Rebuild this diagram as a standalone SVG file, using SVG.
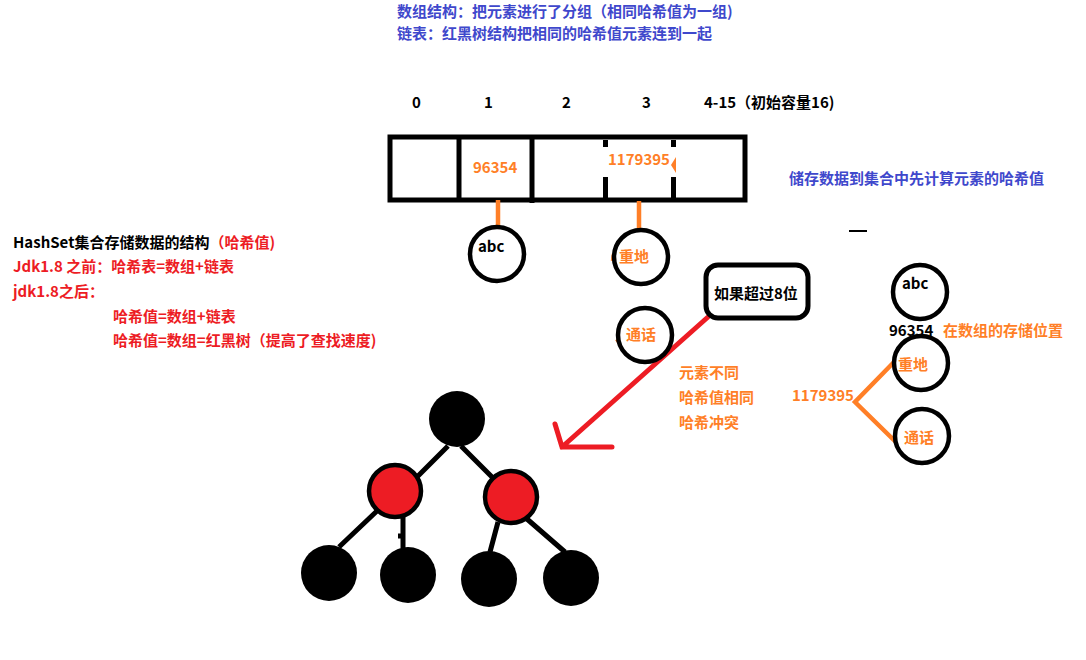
<svg xmlns="http://www.w3.org/2000/svg" width="1086" height="660" viewBox="0 0 1086 660">
<style>
text{font-family:"Microsoft YaHei","Noto Sans CJK SC","Liberation Sans",sans-serif;font-weight:bold;font-size:15px}
.b{fill:#3f48cc}.k{fill:#000}.r{fill:#ed1c24}.o{fill:#ff7f27}
.blk{fill:none;stroke:#000;stroke-width:5}
.c{fill:#fff;stroke:#000;stroke-width:4.5}
.or{fill:none;stroke:#ff7f27;stroke-width:4.5}
.tl{stroke:#000;stroke-width:5;fill:none}
.tb{fill:#000}
.tr{fill:#ed1c24;stroke:#000;stroke-width:4.5}
</style>
<rect width="1086" height="660" fill="#fff"/>
<g id="notes">
<text class="b" x="397" y="17">数组结构：把元素进行了分组（相同哈希值为一组)</text>
<text class="b" x="397" y="39">链表：红黑树结构把相同的哈希值元素连到一起</text>
<text class="b" x="789" y="184">储存数据到集合中先计算元素的哈希值</text>
<text x="13" y="248"><tspan class="k">HashSet集合存储数据的结构</tspan><tspan class="r">（哈希值)</tspan></text>
<text class="r" x="13" y="272">Jdk1.8 之前：哈希表=数组+链表</text>
<text class="r" x="13" y="297">jdk1.8之后：</text>
<text class="r" x="113" y="322">哈希值=数组+链表</text>
<text class="r" x="113" y="346">哈希值=数组=红黑树（提高了查找速度)</text>
<text class="o" x="679" y="378">元素不同</text>
<text class="o" x="679" y="403">哈希值相同</text>
<text class="o" x="679" y="428">哈希冲突</text>
<line x1="849" y1="231" x2="867" y2="231" stroke="#000" stroke-width="2"/>
</g>
<g id="array">
<text class="k" x="412" y="108">0</text>
<text class="k" x="484" y="108">1</text>
<text class="k" x="562" y="108">2</text>
<text class="k" x="642" y="108">3</text>
<text class="k" x="704" y="108">4-15（初始容量16)</text>
<rect class="blk" x="390" y="137" width="355" height="63"/>
<line class="blk" x1="459" y1="137" x2="459" y2="200"/>
<line class="blk" x1="532" y1="137" x2="532" y2="203"/>
<path class="blk" d="M605.5 140V147M605.5 177V200M673.5 140V147M673.5 177V200"/>
<text class="o" x="473" y="173">96354</text>
<text class="o" x="608" y="165">1179395</text>
<path d="M676 157L671 165L676 173Z" fill="#ff7f27"/>
</g>
<g id="connectors">
<line class="or" x1="498" y1="200" x2="498" y2="226"/>
<line class="or" x1="639" y1="201" x2="639" y2="232"/>
<path class="or" d="M614 254L613 261M617 339L622 346"/>
<path class="or" d="M895 361L855 402L903 449"/>
<path d="M708 317L562 447M555 424L562 447L612 447" fill="none" stroke="#ed1c24" stroke-width="5" stroke-linecap="round"/>
<path class="tl" d="M448 446L417 477M461 446L493 478M378 510L339 547M403 517V548M398 536H403M498 522L490 552M527 519L565 552"/>
</g>
<g id="abc1"><circle class="c" cx="497" cy="254" r="27"/><text class="k" x="478" y="252">abc</text></g>
<g id="zhongdi1"><circle class="c" cx="641" cy="257" r="27"/><text class="o" x="619" y="262">重地</text></g>
<g id="tonghua1"><circle class="c" cx="645" cy="335" r="27"/><text class="o" x="626" y="340">通话</text></g>
<g id="box"><rect class="blk" x="706" y="265" width="102" height="53" rx="12"/><text class="k" x="714" y="299">如果超过8位</text></g>
<g id="abc2"><circle class="c" cx="920" cy="292" r="27"/><text class="k" x="902" y="289">abc</text></g>
<g id="hash2"><text class="k" x="889" y="336">96354</text><text class="o" x="943" y="336">在数组的存储位置</text><text class="o" x="792" y="401">1179395</text></g>
<g id="zhongdi2"><circle class="c" cx="921" cy="363" r="27"/><text class="o" x="898" y="370">重地</text></g>
<g id="tonghua2"><circle class="c" cx="922" cy="436" r="27"/><text class="o" x="904" y="443">通话</text></g>
<g id="tree">
<circle class="tb" cx="457" cy="419" r="28"/>
<circle class="tr" cx="395" cy="491" r="26"/>
<circle class="tr" cx="511" cy="497" r="26"/>
<circle class="tb" cx="329" cy="573" r="28"/>
<circle class="tb" cx="408" cy="575" r="28"/>
<circle class="tb" cx="489" cy="579" r="28"/>
<circle class="tb" cx="571" cy="578" r="28"/>
</g>
</svg>
